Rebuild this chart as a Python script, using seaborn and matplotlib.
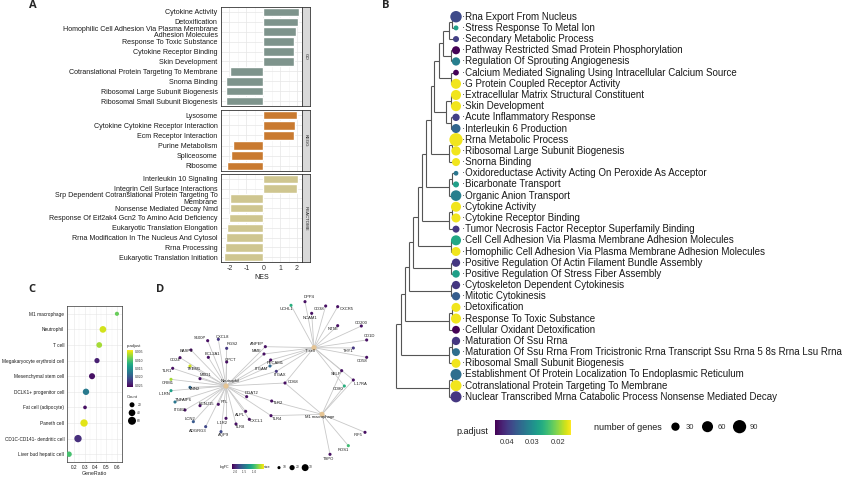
import numpy as np
import pandas as pd
import seaborn as sns
import matplotlib as mpl
import matplotlib.pyplot as plt

sns.set_theme(style='white')
plt.rcParams['font.family'] = ['Liberation Sans', 'DejaVu Sans']
plt.rcParams['axes.unicode_minus'] = False

# ---------------- data: panel A (GSEA NES) ----------------
go_terms = ['Cytokine Activity', 'Detoxification',
            'Homophilic Cell Adhesion Via Plasma Membrane\nAdhesion Molecules',
            'Response To Toxic Substance', 'Cytokine Receptor Binding', 'Skin Development',
            'Cotranslational Protein Targeting To Membrane', 'Snorna Binding',
            'Ribosomal Large Subunit Biogenesis', 'Ribosomal Small Subunit Biogenesis']
go_nes = [2.14, 2.08, 1.94, 1.82, 1.82, 1.82, -1.98, -2.18, -2.18, -2.2]

kegg_terms = ['Lysosome', 'Cytokine Cytokine Receptor Interaction', 'Ecm Receptor Interaction',
              'Purine Metabolism', 'Spliceosome', 'Ribosome']
kegg_nes = [1.98, 1.86, 1.8, -1.78, -1.9, -2.12]

reactome_terms = ['Interleukin 10 Signaling', 'Integrin Cell Surface Interactions',
                  'Srp Dependent Cotranslational Protein Targeting To\nMembrane',
                  'Nonsense Mediated Decay Nmd', 'Response Of Eif2ak4 Gcn2 To Amino Acid Deficiency',
                  'Eukaryotic Translation Elongation', 'Rrna Modification In The Nucleus And Cytosol',
                  'Rrna Processing', 'Eukaryotic Translation Initiation']
reactome_nes = [2.06, 2.0, -1.94, -1.96, -2.02, -2.14, -2.18, -2.26, -2.3]

# ---------------- data: panel B (tree plot) ----------------
b_terms = ['Rna Export From Nucleus', 'Stress Response To Metal Ion', 'Secondary Metabolic Process',
           'Pathway Restricted Smad Protein Phosphorylation', 'Regulation Of Sprouting Angiogenesis',
           'Calcium Mediated Signaling Using Intracellular Calcium Source',
           'G Protein Coupled Receptor Activity', 'Extracellular Matrix Structural Constituent',
           'Skin Development', 'Acute Inflammatory Response', 'Interleukin 6 Production',
           'Rrna Metabolic Process', 'Ribosomal Large Subunit Biogenesis', 'Snorna Binding',
           'Oxidoreductase Activity Acting On Peroxide As Acceptor', 'Bicarbonate Transport',
           'Organic Anion Transport', 'Cytokine Activity', 'Cytokine Receptor Binding',
           'Tumor Necrosis Factor Receptor Superfamily Binding',
           'Cell Cell Adhesion Via Plasma Membrane Adhesion Molecules',
           'Homophilic Cell Adhesion Via Plasma Membrane Adhesion Molecules',
           'Positive Regulation Of Actin Filament Bundle Assembly',
           'Positive Regulation Of Stress Fiber Assembly', 'Cytoskeleton Dependent Cytokinesis',
           'Mitotic Cytokinesis', 'Detoxification', 'Response To Toxic Substance',
           'Cellular Oxidant Detoxification', 'Maturation Of Ssu Rrna',
           'Maturation Of Ssu Rrna From Tricistronic Rrna Transcript Ssu Rrna 5 8s Rrna Lsu Rrna',
           'Ribosomal Small Subunit Biogenesis',
           'Establishment Of Protein Localization To Endoplasmic Reticulum',
           'Cotranslational Protein Targeting To Membrane',
           'Nuclear Transcribed Mrna Catabolic Process Nonsense Mediated Decay']
b_padj = [0.038, 0.028, 0.039, 0.0445, 0.032, 0.0445, 0.0155, 0.0155, 0.0155, 0.039, 0.035,
          0.0155, 0.0155, 0.0155, 0.033, 0.028, 0.032, 0.0155, 0.0155, 0.040, 0.027, 0.0155,
          0.040, 0.028, 0.040, 0.036, 0.0155, 0.0155, 0.0445, 0.040, 0.034, 0.0155, 0.034,
          0.0155, 0.040]
b_count = [65, 5, 12, 28, 30, 10, 48, 48, 48, 22, 37, 90, 40, 28, 4, 12, 55, 48, 37, 19, 48,
           37, 30, 24, 30, 30, 37, 48, 26, 30, 26, 37, 60, 60, 60]

# hierarchical clustering of terms: (merge height, left, right); leaves are term indices
b_tree = (60,
          (55.5,
           (51,
            (47,
             (43,
              (38.5,
               (34.5,
                (30.5,
                 (25.5,
                  (22,
                   (17, (13, (7, (4, 0, 1), 2), (5, 3, 4)), (5, 5, 6)),
                   (10, (5, 7, 8), (5, 9, 10))),
                  (7, (4, 11, 12), 13)),
                 (7, (4, 14, 15), 16)),
                (7, (4, 17, 18), 19)),
               (5, 20, 21)),
              (5, 22, 23)),
             (5, 24, 25)),
            (7, (4, 26, 27), 28)),
           (7, (4, 29, 30), 31)),
          (7, (4, 32, 33), 34))

# ---------------- data: panel C (cell markers) ----------------
c_cells = ['M1 macrophage', 'Neutrophil', 'T cell', 'Megakaryocyte erythroid cell',
           'Mesenchymal stem cell', 'DCLK1+ progenitor cell', 'Fat cell (adipocyte)',
           'Paneth cell', 'CD1C-CD141- dendritic cell', 'Liver bud hepatic cell']
c_ratio = [0.598, 0.468, 0.434, 0.413, 0.367, 0.311, 0.302, 0.293, 0.237, 0.154]
c_padj = [0.009, 0.0055, 0.007, 0.024, 0.025, 0.017, 0.025, 0.005, 0.023, 0.0105]
c_count = [12, 40, 28, 22, 32, 36, 8, 50, 50, 25]

# ---------------- data: panel D (gene-concept network) ----------------
hubs = ['Neutrophil', 'T cell', 'M1 macrophage']
hub_x = [198, 462, 486]
hub_y = [318, 203, 403]
genes = ['DPP4', 'UCHL1', 'CD38', 'CXCR5', 'NCAM1', 'NT5E', 'CD200', 'CD1D', 'THY1', 'CD58',
         'SELP', 'IL17RA', 'CD80', 'TLR2', 'TLR4', 'CD68', 'IRF5', 'ROS1', 'TSPO', 'ANPEP',
         'MME', 'PECAM1', 'ITGAM', 'ITGAX', 'DGAT2', 'S100P', 'CXCL8', 'RGS2', 'BCL2A1', 'OPCT',
         'BASP1', 'CD24', 'TREM1', 'TLR1', 'MXD1', 'ORM1', 'VNN2', 'IL1RN', 'TNFAIP6', 'KCNJ15',
         'FTL', 'ITGB2', 'LCN2', 'ALPL', 'IL1R2', 'CXCL1', 'TLR8', 'ADGRG3', 'AQP9']
gene_logfc = [-2.1, -1.1, -2.1, -2.1, -2.1, -2.1, -2.1, -2.1, -1.9, -2.1,
              -2.1, -2.1, -1.1, -2.1, -2.1, -2.1, -2.1, -1.0, -2.1, -2.1,
              -2.1, -2.1, -1.6, -1.9, -2.1, -2.1, -1.9, -1.9, -2.1, -2.1,
              -2.1, -2.1, -0.6, -2.1, -2.1, -0.7, -1.6, -1.2, -1.5, -2.1,
              -2.1, -2.1, -1.7, -2.1, -2.1, -2.1, -2.1, -1.8, -1.8]
gene_hubs = {'T cell': ['DPP4', 'UCHL1', 'CD38', 'CXCR5', 'NCAM1', 'NT5E', 'CD200', 'CD1D', 'THY1',
                        'CD58', 'SELP', 'IL17RA', 'CD80', 'ANPEP', 'MME', 'PECAM1', 'ITGAM',
                        'ITGAX', 'CD68'],
             'Neutrophil': ['S100P', 'CXCL8', 'RGS2', 'BCL2A1', 'OPCT', 'BASP1', 'CD24', 'TREM1',
                            'TLR1', 'MXD1', 'ORM1', 'VNN2', 'IL1RN', 'TNFAIP6', 'KCNJ15', 'FTL',
                            'ITGB2', 'LCN2', 'ALPL', 'IL1R2', 'CXCL1', 'TLR8', 'ADGRG3', 'AQP9',
                            'DGAT2', 'ANPEP', 'MME', 'PECAM1', 'ITGAM', 'ITGAX', 'CD68', 'TLR2',
                            'TLR4'],
             'M1 macrophage': ['CD68', 'TLR2', 'TLR4', 'IRF5', 'ROS1', 'TSPO', 'SELP', 'IL17RA',
                               'CD80']}
# graph layout (node position, label position)
gene_x = [435, 393, 497, 533, 455, 533, 604, 620, 580, 620, 545, 580, 553, 335, 333, 375, 615,
          565, 510, 316, 312, 332, 330, 349, 260, 143, 175, 200, 145, 200, 93, 60, 90, 38, 120,
          33, 90, 33, 45, 120, 175, 75, 100, 257, 198, 268, 228, 137, 183]
gene_y = [65, 76, 78, 80, 100, 137, 138, 180, 204, 232, 272, 300, 318, 363, 407, 309, 457, 497,
          523, 200, 222, 240, 258, 274, 350, 182, 178, 205, 232, 246, 210, 233, 258, 265, 296,
          298, 322, 332, 366, 377, 373, 390, 425, 394, 415, 418, 432, 440, 455]
lab_x = [448, 378, 478, 560, 450, 520, 605, 627, 565, 605, 527, 600, 535, 355, 350, 398, 595,
         550, 505, 292, 290, 345, 305, 360, 275, 120, 186, 217, 157, 212, 78, 45, 101, 20, 135,
         22, 103, 15, 70, 140, 192, 58, 90, 240, 185, 290, 240, 112, 192]
lab_y = [52, 87, 87, 86, 113, 148, 128, 168, 213, 242, 283, 312, 328, 370, 417, 305, 465, 510,
         538, 193, 213, 248, 268, 285, 340, 173, 170, 193, 221, 240, 212, 239, 268, 272, 286,
         310, 327, 342, 360, 373, 366, 389, 418, 405, 428, 423, 440, 452, 465]
hub_lab_x = [210, 450, 480]
hub_lab_y = [302, 213, 410]

# ---------------- figure ----------------
W, H = 850, 480
fig = plt.figure(figsize=(W / 100, H / 100), dpi=100)


def px_axes(x0, y0, x1, y1):
    return fig.add_axes([x0 / W, 1 - y1 / H, (x1 - x0) / W, (y1 - y0) / H])


def px_text(x, y, s, **kw):
    fig.text(x / W, 1 - y / H, s, **kw)


border = '#333333'
for lab, x, y in [('A', 33, 6), ('B', 386, 6), ('C', 32, 290), ('D', 160, 290)]:
    px_text(x, y, lab, fontsize=8, fontweight='bold', va='center', ha='center',
            family='Open Sans')

# ---------------- panel A ----------------
facets = [('GO', go_terms, go_nes, '#7E948C', 7, 106),
          ('KEGG', kegg_terms, kegg_nes, '#C97A30', 110, 171),
          ('REACTOME', reactome_terms, reactome_nes, '#CFC690', 174, 262)]
for i, (name, terms, nes, col, top, bot) in enumerate(facets):
    ax = px_axes(221, top, 302, bot)
    df = pd.DataFrame({'Description': terms, 'NES': nes})
    sns.barplot(data=df, x='NES', y='Description', color=col, saturation=1, width=0.86,
                errorbar=None, ax=ax)
    ax.set_xlim(-2.5, 2.3)
    ax.set_xticks([-2, -1, 0, 1, 2])
    ax.set_xticks([-1.5, -0.5, 0.5, 1.5], minor=True)
    ax.set_axisbelow(True)
    ax.grid(True, which='major', color='#e6e6e6', lw=0.5)
    ax.grid(True, which='minor', axis='x', color='#f2f2f2', lw=0.4)
    ax.set_xlabel('')
    ax.set_ylabel('')
    ax.tick_params(axis='y', labelsize=5.1, length=1.5, width=0.4, pad=1, color=border,
                   labelcolor='#1a1a1a')
    for lbl in ax.get_yticklabels():
        lbl.set_linespacing(0.85)
    if i < 2:
        ax.tick_params(axis='x', bottom=False, labelbottom=False, which='both')
    else:
        ax.tick_params(axis='x', labelsize=5, length=1.5, width=0.4, pad=1, color=border,
                       labelcolor='#333333')
        ax.tick_params(axis='x', which='minor', length=0)
        ax.set_xlabel('NES', fontsize=5, labelpad=1, color='#1a1a1a')
    for sp in ax.spines.values():
        sp.set_color(border)
        sp.set_linewidth(0.6)
    strip = px_axes(302, top, 310, bot)
    strip.set_facecolor('#d9d9d9')
    strip.set_xticks([])
    strip.set_yticks([])
    for sp in strip.spines.values():
        sp.set_color(border)
        sp.set_linewidth(0.6)
    strip.text(0.5, 0.5, name, rotation=270, ha='center', va='center', fontsize=3.2,
               color='#1a1a1a', transform=strip.transAxes)

# ---------------- panel B ----------------
axb = px_axes(390, 8, 850, 404)
axb.set_xlim(-66, 394)
axb.set_ylim(34.64, -0.78)
axb.axis('off')


def draw_tree(node):
    if not isinstance(node, tuple):
        return 0.0, float(node)
    h, left, right = node
    xl, yl = draw_tree(left)
    xr, yr = draw_tree(right)
    axb.plot([-h, -h], [yl, yr], color='#555555', lw=0.8, solid_capstyle='butt')
    axb.plot([-h, xl], [yl, yl], color='#555555', lw=0.8, solid_capstyle='butt')
    axb.plot([-h, xr], [yr, yr], color='#555555', lw=0.8, solid_capstyle='butt')
    return -h, (yl + yr) / 2


draw_tree(b_tree)

dfb = pd.DataFrame({'term': b_terms, 'p.adjust': b_padj, 'count': b_count})
dfb['row'] = np.arange(len(dfb))
dfb['tip'] = 0.0
b_norm = (0.0149, 0.0447)
b_sizes = (8, 100)
b_snorm = (0, 100)
sns.scatterplot(data=dfb, x='tip', y='row', hue='p.adjust', size='count', palette='viridis_r',
                hue_norm=b_norm, sizes=b_sizes, size_norm=b_snorm, legend=False,
                edgecolor='none', ax=axb, zorder=3)
for r, t in zip(dfb['row'], dfb['term']):
    axb.text(6.5, r, '\u00b7' + t, va='center', ha='left', fontsize=7.0, color='#1a1a1a')

# p.adjust colorbar
cax = px_axes(495, 420, 571, 435)
sm = mpl.cm.ScalarMappable(norm=mpl.colors.Normalize(*b_norm), cmap='viridis_r')
cb = fig.colorbar(sm, cax=cax, orientation='horizontal')
cax.invert_xaxis()
cb.outline.set_visible(False)
cb.set_ticks([0.04, 0.03, 0.02])
cb.set_ticklabels(['0.04', '0.03', '0.02'])
cax.tick_params(labelsize=5.5, length=2.5, width=0.5, color='white', direction='in', pad=3,
                labelcolor='#333333')
px_text(472, 432, 'p.adjust', fontsize=6.5, ha='center', va='center', color='#1a1a1a')


def b_size(v):
    return b_sizes[0] + (v - b_snorm[0]) / (b_snorm[1] - b_snorm[0]) * (b_sizes[1] - b_sizes[0])


px_text(628, 427, 'number of genes', fontsize=6.5, ha='center', va='center', color='#1a1a1a')
handles = [plt.scatter([], [], s=b_size(v), color='black', edgecolor='none') for v in [30, 60, 90]]
fig.legend(handles, ['30', '60', '90'], ncol=3, frameon=False, fontsize=5.5,
           loc='center left', bbox_to_anchor=(664 / W, 1 - 427 / H), handletextpad=0.3,
           columnspacing=0.8, borderpad=0, labelcolor='#333333')

# ---------------- panel C ----------------
axc = px_axes(67, 306, 122, 462)
dfc = pd.DataFrame({'cell': c_cells, 'GeneRatio': c_ratio, 'p.adjust': c_padj, 'Count': c_count})
c_norm = (0.004, 0.026)
c_sizes = (3, 33)
c_snorm = (0, 60)
sns.scatterplot(data=dfc, x='GeneRatio', y='cell', hue='p.adjust', size='Count',
                palette='viridis_r', hue_norm=c_norm, sizes=c_sizes, size_norm=c_snorm,
                legend=False, edgecolor='none', ax=axc, zorder=3)
axc.set_ylim(len(c_cells) - 0.5, -0.5)
axc.set_xlim(0.135, 0.645)
axc.set_xticks([0.2, 0.3, 0.4, 0.5, 0.6])
axc.set_xticklabels(['0.2', '0.3', '0.4', '0.5', '0.6'])
axc.set_xticks([0.15, 0.25, 0.35, 0.45, 0.55], minor=True)
axc.set_axisbelow(True)
axc.grid(True, which='major', color='#e6e6e6', lw=0.4)
axc.grid(True, which='minor', axis='x', color='#f2f2f2', lw=0.3)
axc.tick_params(labelsize=3.4, length=1, width=0.3, pad=1, color=border, labelcolor='#1a1a1a')
axc.tick_params(axis='x', which='minor', length=0)
axc.set_ylabel('')
axc.set_xlabel('GeneRatio', fontsize=3.8, labelpad=1)
for sp in axc.spines.values():
    sp.set_color(border)
    sp.set_linewidth(0.5)

cax_c = px_axes(127, 350, 133, 387)
smc = mpl.cm.ScalarMappable(norm=mpl.colors.Normalize(*c_norm), cmap='viridis_r')
cbc = fig.colorbar(smc, cax=cax_c, orientation='vertical')
cax_c.invert_yaxis()
cbc.outline.set_visible(False)
cbc.set_ticks([0.005, 0.010, 0.015, 0.020, 0.025])
cax_c.tick_params(labelsize=2.4, length=1, width=0.3, color='white', direction='in', pad=1.5,
                  labelcolor='#333333')
px_text(127, 346, 'p.adjust', fontsize=3, ha='left', va='center')
px_text(127, 397, 'Count', fontsize=3, ha='left', va='center')


def c_size(v):
    return c_sizes[0] + (v - c_snorm[0]) / (c_snorm[1] - c_snorm[0]) * (c_sizes[1] - c_sizes[0])


c_handles = [plt.scatter([], [], s=c_size(v), color='black', edgecolor='none') for v in [20, 40, 60]]
fig.legend(c_handles, ['20', '40', '60'], ncol=1, frameon=False, fontsize=2.4,
           loc='upper left', bbox_to_anchor=(127 / W, 1 - 401 / H), handletextpad=0.6,
           labelspacing=1.2, borderpad=0, labelcolor='#333333')

# ---------------- panel D ----------------
axd = px_axes(160, 280, 400, 480)
axd.set_xlim(0, 720)
axd.set_ylim(600, 0)
axd.axis('off')

dfd = pd.DataFrame({'gene': genes, 'x': gene_x, 'y': gene_y, 'logFC': gene_logfc,
                    'lx': lab_x, 'ly': lab_y})
pos = {g: (x, y) for g, x, y in zip(genes, gene_x, gene_y)}
for h, hx, hy in zip(hubs, hub_x, hub_y):
    for g in gene_hubs[h]:
        gx, gy = pos[g]
        axd.plot([hx, gx], [hy, gy], color='#c8c8c8', lw=0.6, zorder=1)

d_norm = (-2.17, -0.47)
sns.scatterplot(data=dfd, x='x', y='y', hue='logFC', palette='viridis', hue_norm=d_norm,
                s=5, legend=False, edgecolor='none', ax=axd, zorder=3)
axd.scatter(hub_x, hub_y, s=14, color='#E5C494', edgecolor='none', zorder=3)
for g, lx, ly in zip(dfd['gene'], dfd['lx'], dfd['ly']):
    axd.text(lx, ly, g, fontsize=3, ha='center', va='center', color='#1a1a1a', zorder=4)
for h, lx, ly in zip(hubs, hub_lab_x, hub_lab_y):
    axd.text(lx, ly, h, fontsize=3, ha='center', va='center', color='#1a1a1a', zorder=4)

cax_d = px_axes(232, 464, 264, 469)
smd = mpl.cm.ScalarMappable(norm=mpl.colors.Normalize(*d_norm), cmap='viridis')
cbd = fig.colorbar(smd, cax=cax_d, orientation='horizontal')
cbd.outline.set_visible(False)
cbd.set_ticks([-2.0, -1.5, -1.0])
cax_d.tick_params(labelsize=2.2, length=0.8, width=0.3, color='white', direction='in', pad=1,
                  labelcolor='#333333')
px_text(224, 467, 'logFC', fontsize=2.6, ha='center', va='center')
px_text(267, 467, 'size', fontsize=2.6, ha='center', va='center')
d_handles = [plt.scatter([], [], s=v, color='black', edgecolor='none') for v in [5, 14, 25]]
fig.legend(d_handles, ['10', '20', '30'], ncol=3, frameon=False, fontsize=2.4,
           loc='center left', bbox_to_anchor=(274 / W, 1 - 467.5 / H), handletextpad=0.2,
           columnspacing=0.6, borderpad=0, labelcolor='#333333')

fig.savefig('out.png', dpi=100)
